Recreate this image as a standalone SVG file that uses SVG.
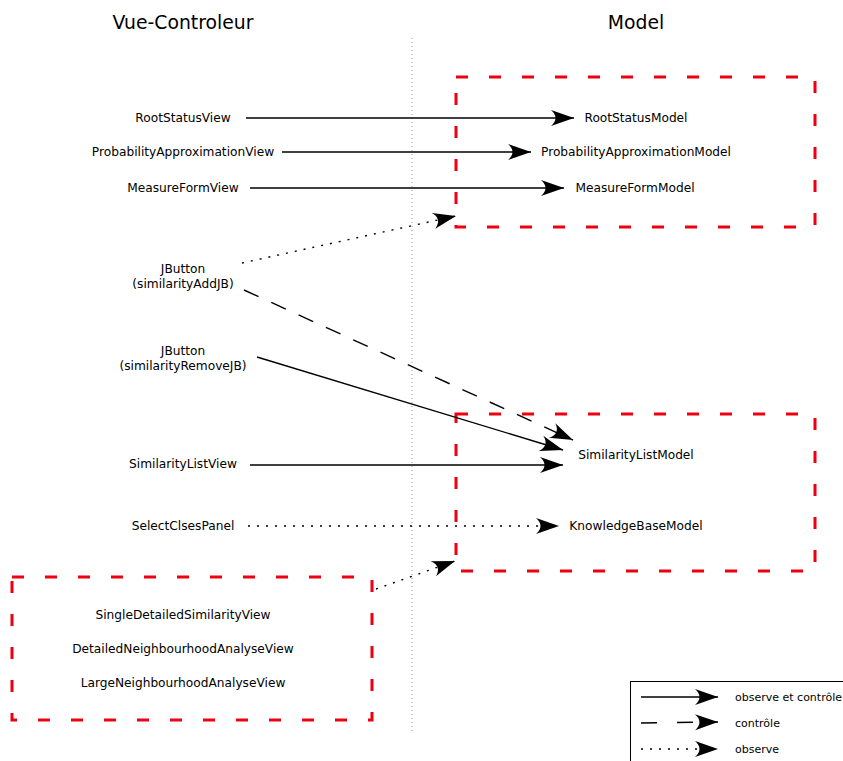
<svg xmlns="http://www.w3.org/2000/svg" width="843" height="761" viewBox="0 0 843 761">
<style>
text{font-family:"DejaVu Sans",sans-serif;font-size:12.2px;fill:#000;text-anchor:middle}
.h{font-size:18.8px}
.lg{font-size:11px;text-anchor:start}
.box{fill:none;stroke:#ee0011;stroke-width:3;stroke-dasharray:12 21}
.c{fill:none;stroke:#000;stroke-width:1.4}
.solid{marker-end:url(#ah)}
.dash{stroke-dasharray:16 14;marker-end:url(#ah)}
.dot{stroke-dasharray:2 7;marker-end:url(#ah)}
</style>
<defs>
<marker id="ah" markerUnits="userSpaceOnUse" markerWidth="30" markerHeight="20" viewBox="-24 -10 26 20" refX="0" refY="0" orient="auto" overflow="visible">
<path d="M0,0 L-23,-8 C-17,-3 -17,3 -23,8 Z" fill="#000"/>
</marker>
</defs>
<rect width="843" height="761" fill="#fff"/>
<text class="h" x="183" y="29">Vue-Controleur</text>
<text class="h" x="636" y="29">Model</text>
<line x1="412" y1="38" x2="412" y2="731" stroke="#999" stroke-width="1" stroke-dasharray="1 3"/>
<g id="boxModelTop"><rect class="box" x="456" y="77" width="359" height="150"/></g>
<g id="boxModelBottom"><rect class="box" x="456" y="414" width="359" height="157"/></g>
<g id="boxViews"><rect class="box" x="12" y="577" width="360" height="143"/></g>
<g id="RootStatusView"><text x="183" y="122">RootStatusView</text></g>
<g id="ProbabilityApproximationView"><text x="183" y="156">ProbabilityApproximationView</text></g>
<g id="MeasureFormView"><text x="183" y="192">MeasureFormView</text></g>
<g id="JButtonAdd"><text x="183" y="273">JButton</text><text x="183" y="288">(similarityAddJB)</text></g>
<g id="JButtonRemove"><text x="183" y="355">JButton</text><text x="183" y="370">(similarityRemoveJB)</text></g>
<g id="SimilarityListView"><text x="183" y="468">SimilarityListView</text></g>
<g id="SelectClsesPanel"><text x="183" y="530">SelectClsesPanel</text></g>
<g id="SingleDetailedSimilarityView"><text x="183" y="619">SingleDetailedSimilarityView</text></g>
<g id="DetailedNeighbourhoodAnalyseView"><text x="183" y="653">DetailedNeighbourhoodAnalyseView</text></g>
<g id="LargeNeighbourhoodAnalyseView"><text x="183" y="687">LargeNeighbourhoodAnalyseView</text></g>
<g id="RootStatusModel"><text x="636" y="122">RootStatusModel</text></g>
<g id="ProbabilityApproximationModel"><text x="636" y="156">ProbabilityApproximationModel</text></g>
<g id="MeasureFormModel"><text x="635" y="192">MeasureFormModel</text></g>
<g id="SimilarityListModel"><text x="636" y="459">SimilarityListModel</text></g>
<g id="KnowledgeBaseModel"><text x="636" y="530">KnowledgeBaseModel</text></g>
<g id="connectors">
<line class="c solid" x1="246" y1="118" x2="574" y2="118"/>
<line class="c solid" x1="282" y1="152" x2="531" y2="152"/>
<line class="c solid" x1="250" y1="188" x2="564" y2="188"/>
<line class="c dot" x1="242" y1="263" x2="456" y2="216"/>
<line class="c dash" x1="244" y1="290" x2="573" y2="440"/>
<line class="c solid" x1="257" y1="357" x2="563" y2="450"/>
<line class="c solid" x1="250" y1="465" x2="563" y2="465"/>
<line class="c dot" x1="248" y1="526" x2="559" y2="526"/>
<line class="c dot" x1="376" y1="589" x2="455" y2="561"/>
</g>
<g id="legend">
<rect x="630.5" y="681.5" width="220" height="90" fill="none" stroke="#000" stroke-width="1"/>
<line class="c solid" x1="641" y1="697" x2="718" y2="697"/>
<line class="c dash" x1="641" y1="723" x2="718" y2="722" style="stroke-dasharray:16 20"/>
<line class="c dot" x1="641" y1="749" x2="718" y2="749"/>
<text class="lg" x="735" y="701">observe et contrôle</text>
<text class="lg" x="735" y="727">contrôle</text>
<text class="lg" x="735" y="753">observe</text>
</g>
</svg>
